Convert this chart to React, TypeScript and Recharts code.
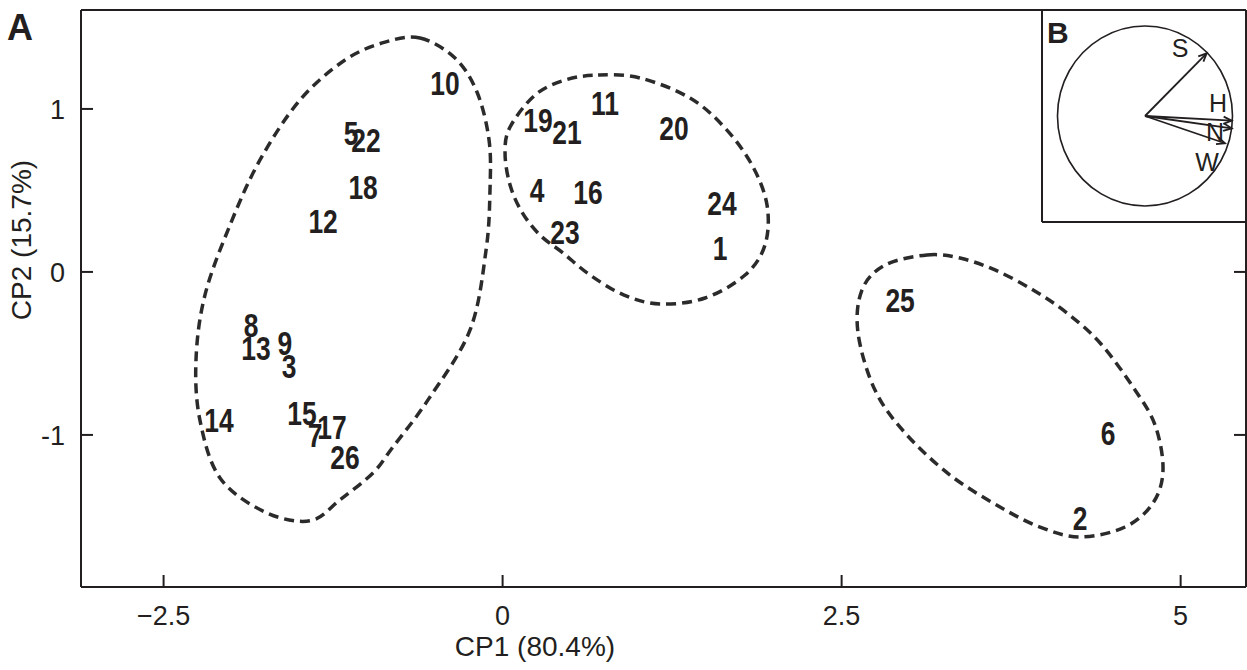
import React from 'react';
import { ComposedChart, Scatter, Line, XAxis, YAxis, Label } from 'recharts';

const ink = '#231f20';
const axisFont = "'Liberation Sans', Arial, Helvetica, sans-serif";

// sample scores (CP1 / CP2)
const sampleIds = ['1', '2', '3', '4', '5', '6', '7', '8', '9', '10', '11', '12', '13', '14', '15', '16', '17', '18', '19', '20', '21', '22', '23', '24', '25', '26'];
const cp1 = [1.603, 4.258, -1.575, 0.254, -1.118, 4.465, -1.383, -1.855, -1.605, -0.425, 0.755, -1.324, -1.819, -2.091, -1.479, 0.63, -1.258, -1.029, 0.261, 1.264, 0.475, -1.007, 0.46, 1.618, 2.931, -1.162];
const cp2 = [0.145, -1.511, -0.579, 0.501, 0.851, -0.99, -1.002, -0.327, -0.438, 1.158, 1.035, 0.311, -0.468, -0.91, -0.867, 0.489, -0.953, 0.52, 0.931, 0.882, 0.857, 0.808, 0.244, 0.421, -0.174, -1.137];

const xTicks = [-2.5, 0, 2.5, 5];
const yTicks = [-1, 0, 1];
const xDomain = [-3.109, 5.482];
const yDomain = [-1.933, 1.607];

// group outlines (dashed)
const leftGroupX = [-0.609, -0.351, -0.189, -0.1, -0.093, -0.122, -0.24, -0.55, -0.808, -0.956, -1.199, -1.42, -1.752, -2.084, -2.232, -2.261, -2.195, -2.01, -1.789, -1.494, -1.162, -0.867];
const leftGroupY = [1.435, 1.312, 1.104, 0.809, 0.502, 0.134, -0.356, -0.785, -1.073, -1.233, -1.398, -1.527, -1.473, -1.264, -0.909, -0.54, -0.142, 0.288, 0.687, 1.055, 1.3, 1.41];
const midGroupX = [0.704, 1.013, 1.382, 1.64, 1.839, 1.95, 1.935, 1.788, 1.493, 1.161, 0.896, 0.645, 0.446, 0.276, 0.143, 0.055, 0.018, 0.055, 0.239, 0.46];
const midGroupY = [1.208, 1.19, 1.067, 0.883, 0.656, 0.41, 0.165, -0.019, -0.16, -0.197, -0.142, -0.019, 0.116, 0.226, 0.367, 0.533, 0.729, 0.889, 1.085, 1.177];
const rightGroupX = [3.13, 3.373, 3.631, 3.912, 4.162, 4.406, 4.649, 4.811, 4.87, 4.796, 4.59, 4.258, 3.963, 3.668, 3.299, 2.968, 2.746, 2.621, 2.65, 2.82];
const rightGroupY = [0.104, 0.085, 0.012, -0.111, -0.252, -0.436, -0.706, -0.939, -1.215, -1.418, -1.565, -1.626, -1.565, -1.442, -1.246, -0.988, -0.725, -0.375, -0.111, 0.042];

// inset B: correlation circle and variable vectors
const circleX = [1, 0.866, 0.5, 0, -0.5, -0.866, -1, -0.866, -0.5, 0, 0.5, 0.866];
const circleY = [0, 0.5, 0.866, 1, 0.866, 0.5, 0, -0.5, -0.866, -1, -0.866, -0.5];
const varNames = ['S', 'H', 'N', 'W'];
const varX = [0.705, 0.991, 0.991, 0.914];
const varY = [0.697, -0.052, -0.137, -0.303];
const varLabelX = [0.4, 0.834, 0.8, 0.709];
const varLabelY = [0.756, 0.144, -0.178, -0.511];

const samples = sampleIds.map((id, i) => ({ id, x: cp1[i], y: cp2[i] }));
const toPts = (xs: number[], ys: number[]) => xs.map((x, i) => ({ x, y: ys[i] }));
const groups = [toPts(leftGroupX, leftGroupY), toPts(midGroupX, midGroupY), toPts(rightGroupX, rightGroupY)];
const circle = toPts(circleX, circleY);
const varLabels = varNames.map((name, i) => ({ name, x: varLabelX[i], y: varLabelY[i] }));

// closed Catmull-Rom curve, used as the Line's curve type
function closedSpline(context: any) {
  let pts: number[][] = [];
  return {
    areaStart() {},
    areaEnd() {},
    lineStart() {
      pts = [];
    },
    point(x: number, y: number) {
      pts.push([+x, +y]);
    },
    lineEnd() {
      const n = pts.length;
      if (n < 3) return;
      context.moveTo(pts[0][0], pts[0][1]);
      for (let i = 0; i < n; i++) {
        const p0 = pts[(i + n - 1) % n];
        const p1 = pts[i];
        const p2 = pts[(i + 1) % n];
        const p3 = pts[(i + 2) % n];
        context.bezierCurveTo(
          p1[0] + (p2[0] - p0[0]) / 6,
          p1[1] + (p2[1] - p0[1]) / 6,
          p2[0] - (p3[0] - p1[0]) / 6,
          p2[1] - (p3[1] - p1[1]) / 6,
          p2[0],
          p2[1]
        );
      }
      context.closePath();
    },
  };
}

const fmtX = (v: number) => (v < 0 ? '\u2212' + Math.abs(v) : String(v));

const BottomTick = ({ x, y, payload }: any) => (
  <g>
    <line x1={x} y1={y} x2={x} y2={y - 12} stroke={ink} strokeWidth={2} />
    <text x={x} y={y + 38} textAnchor="middle" fontFamily={axisFont} fontSize={27} fill={ink}>
      {fmtX(payload.value)}
    </text>
  </g>
);
const TopTick = ({ x, y }: any) => <line x1={x} y1={y} x2={x} y2={y + 12} stroke={ink} strokeWidth={2} />;
const LeftTick = ({ x, y, payload }: any) => (
  <g>
    <line x1={x} y1={y} x2={x + 12} y2={y} stroke={ink} strokeWidth={2} />
    <text x={x - 16} y={y} dy="0.36em" textAnchor="end" fontFamily={axisFont} fontSize={27} fill={ink}>
      {String(payload.value)}
    </text>
  </g>
);
const RightTick = ({ x, y }: any) => <line x1={x} y1={y} x2={x - 12} y2={y} stroke={ink} strokeWidth={2} />;

// bold, horizontally condensed sample numbers
const SampleLabel = (p: any) => (
  <text
    transform={`translate(${p.cx},${p.cy}) scale(0.8,1)`}
    x={0}
    y={0}
    dy="0.36em"
    textAnchor="middle"
    fontFamily={axisFont}
    fontWeight="bold"
    fontSize={33}
    fill={ink}
  >
    {p.payload.id}
  </text>
);

const VarLabel = (p: any) => (
  <text x={p.cx} y={p.cy} dy="0.36em" textAnchor="middle" fontFamily={axisFont} fontSize={25} fill={ink}>
    {p.payload.name}
  </text>
);

const Arrowhead = (p: any) => {
  if (p.index !== 1) return <g key={`a${p.index}`} />;
  const a = Math.atan2(-p.payload.y, p.payload.x);
  const L = 9;
  const w1 = a + Math.PI - 0.42;
  const w2 = a + Math.PI + 0.42;
  const d = `M${p.cx + L * Math.cos(w1)},${p.cy + L * Math.sin(w1)}L${p.cx},${p.cy}L${p.cx + L * Math.cos(w2)},${p.cy + L * Math.sin(w2)}`;
  return <path key={`a${p.index}`} d={d} fill="none" stroke={ink} strokeWidth={1.8} />;
};

function Inset() {
  return (
    <div style={{ position: 'absolute', left: 1041, top: 11, width: 204, height: 212, background: '#fff' }}>
      <ComposedChart width={204} height={212} margin={{ top: 0, right: 0, bottom: 0, left: 0 }}>
        <XAxis type="number" dataKey="x" domain={[-1.177, 1.143]} allowDataOverflow height={1} tick={false} tickLine={false} axisLine={{ stroke: ink, strokeWidth: 2 }} />
        <YAxis type="number" dataKey="y" domain={[-1.178, 1.167]} allowDataOverflow width={1} tick={false} tickLine={false} axisLine={{ stroke: ink, strokeWidth: 2 }} />
        <Line data={circle} dataKey="y" type={closedSpline as any} stroke={ink} strokeWidth={1.6} fill="none" dot={false} activeDot={false} isAnimationActive={false} />
        {varNames.map((name, i) => (
          <Line
            key={name}
            data={[{ x: 0, y: 0 }, { x: varX[i], y: varY[i] }]}
            dataKey="y"
            type="linear"
            stroke={ink}
            strokeWidth={1.8}
            dot={Arrowhead}
            activeDot={false}
            isAnimationActive={false}
          />
        ))}
        <Scatter data={varLabels} shape={VarLabel} isAnimationActive={false} />
      </ComposedChart>
      <svg width={60} height={50} style={{ position: 'absolute', left: 0, top: 0 }}>
        <text x={6} y={32} fontFamily={axisFont} fontWeight="bold" fontSize={30} fill={ink}>B</text>
      </svg>
    </div>
  );
}

export default function App() {
  return (
    <div style={{ position: 'absolute', left: 0, top: 0, width: 1247, height: 670, background: '#fff' }}>
      <ComposedChart width={1247} height={670} margin={{ top: 9, right: 0, bottom: 0, left: 0 }}>
        <XAxis
          type="number"
          dataKey="x"
          domain={xDomain}
          allowDataOverflow
          ticks={xTicks}
          interval={0}
          height={83}
          tickSize={0}
          tickMargin={0}
          tickLine={false}
          tick={<BottomTick />}
          axisLine={{ stroke: ink, strokeWidth: 2 }}
        >
          <Label
            content={() => (
              <text x={535} y={656} textAnchor="middle" fontFamily={axisFont} fontSize={28} fill={ink}>
                CP1 (80.4%)
              </text>
            )}
          />
        </XAxis>
        <XAxis
          xAxisId="top"
          orientation="top"
          type="number"
          domain={xDomain}
          allowDataOverflow
          ticks={xTicks}
          interval={0}
          height={1}
          tickSize={0}
          tickMargin={0}
          tickLine={false}
          tick={<TopTick />}
          axisLine={{ stroke: ink, strokeWidth: 2 }}
        />
        <YAxis
          type="number"
          dataKey="y"
          domain={yDomain}
          allowDataOverflow
          ticks={yTicks}
          interval={0}
          width={81}
          tickSize={0}
          tickMargin={0}
          tickLine={false}
          tick={<LeftTick />}
          axisLine={{ stroke: ink, strokeWidth: 2 }}
        >
          <Label
            content={() => (
              <text x={31} y={240} transform="rotate(-90 31 240)" textAnchor="middle" fontFamily={axisFont} fontSize={28} fill={ink}>
                CP2 (15.7%)
              </text>
            )}
          />
        </YAxis>
        <YAxis
          yAxisId="right"
          orientation="right"
          type="number"
          domain={yDomain}
          allowDataOverflow
          ticks={yTicks}
          interval={0}
          width={1}
          tickSize={0}
          tickMargin={0}
          tickLine={false}
          tick={<RightTick />}
          axisLine={{ stroke: ink, strokeWidth: 2 }}
        />
        {groups.map((g, i) => (
          <Line
            key={`g${i}`}
            data={g}
            dataKey="y"
            type={closedSpline as any}
            stroke="#2b2b2b"
            strokeWidth={3.5}
            strokeDasharray="10 6"
            fill="none"
            dot={false}
            activeDot={false}
            isAnimationActive={false}
          />
        ))}
        <Scatter data={samples} shape={SampleLabel} isAnimationActive={false} />
        <Scatter xAxisId="top" yAxisId="right" data={[]} isAnimationActive={false} />
      </ComposedChart>
      <svg width={60} height={60} style={{ position: 'absolute', left: 0, top: 0 }}>
        <text x={7} y={40} fontFamily={axisFont} fontWeight="bold" fontSize={36} fill={ink}>A</text>
      </svg>
      <Inset />
    </div>
  );
}
